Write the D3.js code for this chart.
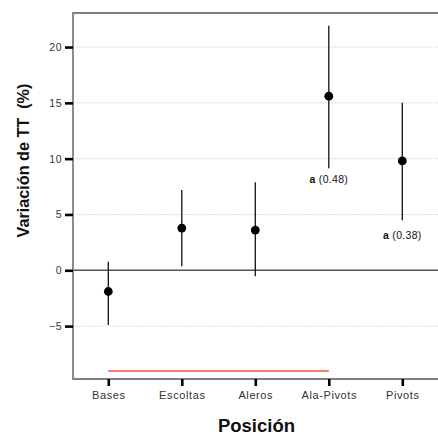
<!DOCTYPE html>
<html>
<head>
<meta charset="utf-8">
<script src="https://cdn.jsdelivr.net/npm/d3@7"></script>
<style>
  body { margin: 0; background: #fff; }
  svg text { font-family: "Liberation Sans", Arial, sans-serif; }
</style>
</head>
<body>
<div id="chart"></div>
<script>
var width = 438;
var height = 434;

// data
var posiciones = ["Bases", "Escoltas", "Aleros", "Ala-Pivots", "Pivots"];
var media = [-1.9, 3.78, 3.6, 15.6, 9.8];
var limInf = [-4.9, 0.36, -0.54, 9.13, 4.48];
var limSup = [0.77, 7.19, 7.88, 21.9, 15.0];

var yTicks = [-5, 0, 5, 10, 15, 20];

// annotations
var notaPos = ["Ala-Pivots", "Pivots"];
var notaLetra = ["a", "a"];
var notaP = ["(0.48)", "(0.38)"];
var notaY = [8.1, 3.1];

// significance segment
var segDesde = "Bases";
var segHasta = "Ala-Pivots";
var segY = -9.03;

var data = posiciones.map(function(p, i) {
  return {pos: p, m: media[i], lo: limInf[i], hi: limSup[i]};
});

var panel = {left: 73, top: 13, right: 438, bottom: 379};

var svg = d3.select("#chart")
  .append("svg")
    .attr("width", width)
    .attr("height", height);

var x = d3.scalePoint()
  .domain(posiciones)
  .range([108.3, 402.3]);

var y = d3.scaleLinear()
  .domain([-9.74, 23.05])
  .range([panel.bottom, panel.top]);

// grid lines
svg.append("g")
  .selectAll("line")
  .data(yTicks.filter(function(d){ return d !== 0; }))
  .enter()
  .append("line")
    .attr("x1", panel.left)
    .attr("x2", panel.right)
    .attr("y1", function(d){ return y(d); })
    .attr("y2", function(d){ return y(d); })
    .attr("stroke", "#dedede")
    .attr("stroke-width", 1)
    .attr("stroke-dasharray", "2,1");

// zero line
svg.append("line")
  .attr("x1", panel.left)
  .attr("x2", panel.right)
  .attr("y1", y(0))
  .attr("y2", y(0))
  .attr("stroke", "#555")
  .attr("stroke-width", 1.6);

// panel border (left, top, bottom)
svg.append("path")
  .attr("d", "M" + panel.right + "," + panel.top + "H" + panel.left + "V" + panel.bottom + "H" + panel.right)
  .attr("fill", "none")
  .attr("stroke", "#808080")
  .attr("stroke-width", 1.8);

// y axis
var yAxis = svg.append("g")
  .attr("transform", "translate(" + panel.left + ",0)")
  .call(d3.axisLeft(y).tickValues(yTicks).tickSize(8).tickPadding(3));
yAxis.select(".domain").remove();
yAxis.selectAll(".tick line").attr("stroke", "#000").attr("stroke-width", 2.6);
yAxis.selectAll(".tick text")
  .attr("fill", "#333")
  .style("font-size", "10.5px")
  .style("letter-spacing", "0.5px")
  .style("font-family", "Liberation Sans, Arial, sans-serif");

// x axis
var xAxis = svg.append("g")
  .attr("transform", "translate(0," + panel.bottom + ")")
  .call(d3.axisBottom(x).tickSize(7).tickPadding(5));
xAxis.select(".domain").remove();
xAxis.selectAll(".tick line").attr("stroke", "#000").attr("stroke-width", 2.6);
xAxis.selectAll(".tick text")
  .attr("fill", "#333")
  .style("font-size", "11px")
  .style("letter-spacing", "0.6px")
  .style("font-family", "Liberation Sans, Arial, sans-serif");

// significance segment
svg.append("line")
  .attr("x1", x(segDesde))
  .attr("x2", x(segHasta))
  .attr("y1", y(segY))
  .attr("y2", y(segY))
  .attr("stroke", "#F8766D")
  .attr("stroke-width", 2);

// error bars
svg.append("g")
  .selectAll("line")
  .data(data)
  .enter()
  .append("line")
    .attr("x1", function(d){ return x(d.pos); })
    .attr("x2", function(d){ return x(d.pos); })
    .attr("y1", function(d){ return y(d.lo); })
    .attr("y2", function(d){ return y(d.hi); })
    .attr("stroke", "#111")
    .attr("stroke-width", 1.3);

// points
svg.append("g")
  .selectAll("circle")
  .data(data)
  .enter()
  .append("circle")
    .attr("cx", function(d){ return x(d.pos); })
    .attr("cy", function(d){ return y(d.m); })
    .attr("r", 4.4)
    .attr("fill", "#000");

// annotations
notaPos.forEach(function(p, i) {
  var t = svg.append("text")
    .attr("x", x(p))
    .attr("y", y(notaY[i]))
    .attr("text-anchor", "middle")
    .attr("dominant-baseline", "middle")
    .style("font-size", "10.5px")
    .style("letter-spacing", "0.3px")
    .attr("fill", "#111");
  t.append("tspan").style("font-weight", "bold").text(notaLetra[i]);
  t.append("tspan").text(" " + notaP[i]);
});

// titles
svg.append("text")
  .attr("x", 256.5)
  .attr("y", 431.5)
  .attr("text-anchor", "middle")
  .style("font-size", "18.5px")
  .style("font-weight", "bold")
  .attr("fill", "#111")
  .text("Posición");

svg.append("text")
  .attr("transform", "translate(29,160.5) rotate(-90)")
  .attr("text-anchor", "middle")
  .style("font-size", "16.2px")
  .style("font-weight", "bold")
  .style("white-space", "pre")
  .attr("fill", "#111")
  .text("Variación de TT  (%)");
</script>
</body>
</html>
